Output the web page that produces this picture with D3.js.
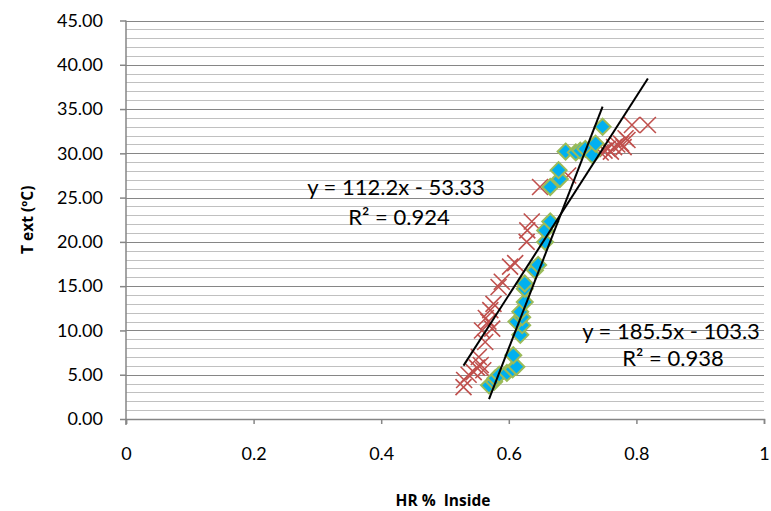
<!DOCTYPE html>
<html>
<head>
<meta charset="utf-8">
<script src="https://cdn.jsdelivr.net/npm/d3@7"></script>
<style>
  html, body { margin: 0; padding: 0; background: #fff; }
  svg { display: block; }
  text { font-family: Lato, "Open Sans", sans-serif; fill: #000; }
  text.axis-title { font-family: "Open Sans", Lato, sans-serif; font-weight: bold; }
</style>
</head>
<body>
<svg id="chart" width="771" height="511"></svg>
<script>
// HR inside (fraction) vs exterior temperature, two measurement series
const blueSeries = [
  [0.569, 3.8], [0.577, 4.2], [0.579, 4.6], [0.585, 5.0], [0.597, 5.2], [0.606, 5.6],
  [0.612, 5.9], [0.607, 7.2], [0.618, 9.5], [0.621, 10.6], [0.612, 11.0], [0.621, 11.5],
  [0.618, 12.1], [0.625, 13.2], [0.625, 14.7], [0.625, 15.3], [0.641, 16.8], [0.646, 17.4],
  [0.657, 20.0], [0.657, 21.3], [0.665, 22.3], [0.665, 26.2], [0.680, 27.1], [0.678, 28.1],
  [0.689, 30.2], [0.705, 30.1], [0.712, 30.3], [0.720, 30.5], [0.731, 29.8], [0.736, 31.1],
  [0.747, 33.0]
];
const redSeries = [
  [0.529, 3.6], [0.530, 4.4], [0.537, 5.0], [0.545, 5.3], [0.550, 5.8], [0.556, 6.1],
  [0.560, 5.5], [0.553, 7.0], [0.563, 8.7], [0.558, 10.0], [0.574, 10.2], [0.568, 11.0],
  [0.564, 11.4], [0.571, 12.3], [0.576, 13.0], [0.584, 14.9], [0.589, 15.5], [0.602, 17.2],
  [0.610, 17.6], [0.628, 20.0], [0.629, 21.3], [0.636, 22.3], [0.649, 26.2], [0.693, 27.5],
  [0.744, 30.1], [0.750, 30.3], [0.755, 30.5], [0.760, 30.2], [0.765, 30.7], [0.770, 31.0],
  [0.776, 31.1], [0.780, 30.7], [0.786, 31.5], [0.783, 31.7], [0.793, 33.2], [0.818, 33.2]
];
// Linear trend fits: [slope, intercept, R²]
const blueFit = [185.5, -103.3, 0.938];
const redFit = [112.2, -53.33, 0.924];

const xTicks = [0, 0.2, 0.4, 0.6, 0.8, 1];
const yTicks = [0, 5, 10, 15, 20, 25, 30, 35, 40, 45];
const yMinor = d3.range(0, 46, 1);

const svg = d3.select("#chart");
const plotLeft = 126, plotRight = 764, plotTop = 20.5, plotBottom = 419;

const x = d3.scaleLinear().domain([0, 1]).range([plotLeft, plotRight]);
const y = d3.scaleLinear().domain([0, 45]).range([plotBottom, plotTop]);

// minor + major horizontal gridlines
svg.append("g").selectAll("line").data(yMinor.filter(v => v % 5 !== 0)).join("line")
  .attr("x1", plotLeft).attr("x2", plotRight)
  .attr("y1", d => Math.round(y(d)) + 0.5).attr("y2", d => Math.round(y(d)) + 0.5)
  .attr("stroke", "#c0c0c0").attr("stroke-width", 1.2);
svg.append("g").selectAll("line").data(yTicks.filter(v => v > 0)).join("line")
  .attr("x1", plotLeft).attr("x2", plotRight)
  .attr("y1", d => Math.round(y(d)) + 0.5).attr("y2", d => Math.round(y(d)) + 0.5)
  .attr("stroke", "#868686").attr("stroke-width", 1.2);

// axes
const yAxis = d3.axisLeft(y).tickValues(yTicks).tickFormat(d3.format(".2f")).tickSize(6).tickPadding(17);
const gy = svg.append("g").attr("transform", `translate(${plotLeft},0)`).call(yAxis);
const xAxis = d3.axisBottom(x).tickValues(xTicks).tickFormat(d => d === 0 || d === 1 ? String(d) : d3.format(".1f")(d)).tickSize(5).tickPadding(23);
const gx = svg.append("g").attr("transform", `translate(0,${plotBottom})`).call(xAxis);
[gx, gy].forEach(g => {
  g.select(".domain").attr("stroke", "#868686").attr("stroke-width", 1.5);
  g.selectAll(".tick line").attr("stroke", "#868686").attr("stroke-width", 1.5);
  g.selectAll(".tick text").attr("font-size", 18).attr("fill", "#000");
});
gy.select(".domain").attr("d", `M0,${y(45)}V${plotBottom + 6}`);

// markers: red crosses
const cs = 8;
svg.append("g").selectAll("path").data(redSeries).join("path")
  .attr("d", d => {
    const cx = x(d[0]), cy = y(d[1]);
    return `M${cx - cs},${cy - cs}L${cx + cs},${cy + cs}M${cx - cs},${cy + cs}L${cx + cs},${cy - cs}`;
  })
  .attr("stroke", "#C0504D").attr("stroke-width", 1.6).attr("fill", "none");

// markers: blue diamonds
const ds = 8;
svg.append("g").selectAll("path").data(blueSeries).join("path")
  .attr("d", d => {
    const cx = x(d[0]), cy = y(d[1]);
    return `M${cx},${cy - ds}L${cx + ds},${cy}L${cx},${cy + ds}L${cx - ds},${cy}Z`;
  })
  .attr("fill", "#00B0F0").attr("stroke", "#9BBB59").attr("stroke-width", 2);

// trendlines across each series' x range
function trend(series, fit) {
  const [x0, x1] = d3.extent(series, d => d[0]);
  const f = v => fit[0] * v + fit[1];
  svg.append("line")
    .attr("x1", x(x0)).attr("y1", y(f(x0)))
    .attr("x2", x(x1)).attr("y2", y(f(x1)))
    .attr("stroke", "#000").attr("stroke-width", 2);
}
trend(redSeries, redFit);
trend(blueSeries, blueFit);

// equation labels
function eqLabel(fit, cx, cy, rx, ry) {
  const sign = fit[1] < 0 ? " - " : " + ";
  svg.append("text").attr("x", cx).attr("y", cy).attr("text-anchor", "middle")
    .attr("font-size", 22).text(`y = ${fit[0]}x${sign}${Math.abs(fit[1])}`);
  svg.append("text").attr("x", rx).attr("y", ry).attr("text-anchor", "middle")
    .attr("font-size", 22).text(`R² = ${fit[2]}`);
}
eqLabel(redFit, 396, 195, 399, 225);
eqLabel(blueFit, 671, 339, 673, 366);

// axis titles
svg.append("text").attr("class", "axis-title").attr("x", 443).attr("y", 506).attr("text-anchor", "middle")
  .attr("font-size", 15.5).attr("xml:space", "preserve").text("HR %  Inside");
svg.append("text").attr("class", "axis-title")
  .attr("transform", `translate(33,${(plotTop + plotBottom) / 2}) rotate(-90)`)
  .attr("text-anchor", "middle").attr("font-size", 15.5).text("T ext (ºC)");
</script>
</body>
</html>
